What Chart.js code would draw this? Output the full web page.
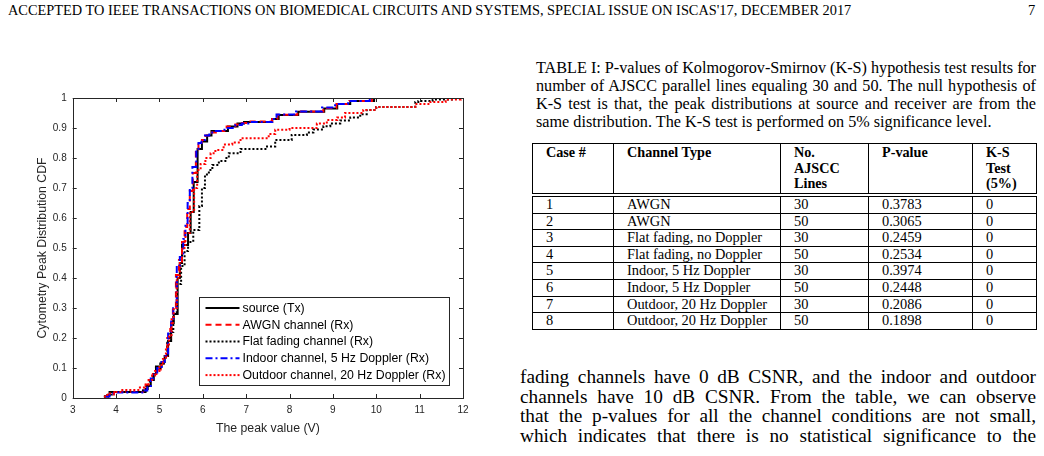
<!DOCTYPE html>
<html>
<head>
<meta charset="utf-8">
<script src="https://cdn.jsdelivr.net/npm/chart.js@4.4.0/dist/chart.umd.min.js"></script>
<style>
body{margin:0;width:1044px;height:456px;background:#fff;position:relative;overflow:hidden;font-family:"Liberation Serif","Times New Roman",serif;color:#000}
#head{position:absolute;left:8px;top:2px;font-size:14.5px;white-space:nowrap;transform-origin:0 0}
#pnum{position:absolute;left:1028px;top:2px;font-size:14.5px}
#graphe{position:absolute;left:0;top:60px;width:500px;height:390px}
#caption{position:absolute;left:536px;top:59px;width:500px;font-size:16.2px;line-height:18px}
#texte{position:absolute;left:520px;top:367px;width:516px;font-size:19.3px;line-height:19.7px}
.j{text-align:justify;text-align-last:justify}
#tab{position:absolute;left:532px;top:143px;border-collapse:collapse;font-size:14.4px;table-layout:fixed}
#tab td,#tab th{border:1px solid #000;padding:0 0 0 13px;text-align:left;vertical-align:top;line-height:15.5px;white-space:nowrap}
#tab th{font-size:14.2px;height:48px;padding-top:1px;border-bottom:4px double #000}
#tab td{height:15.6px}
</style>
</head>
<body>
<div id="head">ACCEPTED TO IEEE TRANSACTIONS ON BIOMEDICAL CIRCUITS AND SYSTEMS, SPECIAL ISSUE ON ISCAS'17, DECEMBER 2017</div>
<div id="pnum">7</div>

<div id="graphe"><canvas id="canv"></canvas></div>

<div id="caption">
<div class="j">TABLE I: P-values of Kolmogorov-Smirnov (K-S) hypothesis test results for</div>
<div class="j">number of AJSCC parallel lines equaling 30 and 50. The null hypothesis of</div>
<div class="j">K-S test is that, the peak distributions at source and receiver are from the</div>
<div>same distribution. The K-S test is performed on 5% significance level.</div>
</div>

<table id="tab">
<colgroup><col style="width:81px"><col style="width:167px"><col style="width:88px"><col style="width:104px"><col style="width:64px"></colgroup>
<thead><tr><th>Case #</th><th>Channel Type</th><th>No.<br>AJSCC<br>Lines</th><th>P-value</th><th>K-S<br>Test<br>(5%)</th></tr></thead>
<tbody id="corps"></tbody>
</table>

<div id="texte">
<div class="j">fading channels have 0 dB CSNR, and the indoor and outdoor</div>
<div class="j">channels have 10 dB CSNR. From the table, we can observe</div>
<div class="j">that the p-values for all the channel conditions are not small,</div>
<div class="j">which indicates that there is no statistical significance to the</div>
</div>

<script>
// valeurs (CDF en escalier)
var srcX = [3.72,3.8,3.85,4.68,4.73,4.8,4.87,4.92,5.05,5.12,5.2,5.27,5.33,5.42,5.47,5.52,5.66,5.72,5.79,5.88,5.98,6.1,6.2,6.58,6.8,6.95,7.6,7.75,8.2,8.8,9.1,9.4,9.95,10.05];
var srcY = [0.005,0.01,0.02,0.03,0.04,0.06,0.08,0.105,0.12,0.14,0.19,0.25,0.28,0.4,0.45,0.51,0.55,0.62,0.72,0.83,0.855,0.875,0.89,0.905,0.915,0.92,0.93,0.943,0.954,0.965,0.98,0.99,1,1];

var awgnX = [3.74,3.82,3.95,4.62,4.7,4.76,4.85,4.93,5.03,5.1,5.18,5.25,5.31,5.38,5.45,5.52,5.58,5.64,5.7,5.77,5.84,5.9,5.98,6.06,6.18,6.3,6.55,6.75,6.9,7.1,7.6,7.72,8.18,8.78,9.08,9.38,9.9,10.05];
var awgnY = [0.005,0.012,0.02,0.025,0.045,0.06,0.08,0.095,0.115,0.14,0.2,0.23,0.3,0.41,0.46,0.52,0.57,0.63,0.69,0.75,0.82,0.845,0.86,0.875,0.885,0.89,0.905,0.912,0.917,0.922,0.93,0.944,0.955,0.967,0.98,0.99,1,1];

var flatX = [3.72,3.82,3.9,4.62,4.7,4.78,4.85,4.92,5.02,5.1,5.18,5.25,5.32,5.4,5.5,5.58,5.66,5.78,5.92,5.98,6.05,6.14,6.22,6.37,6.52,6.6,6.87,7.48,7.67,8.05,8.4,8.55,8.78,8.94,9.17,9.4,9.63,9.78,10.0,10.9,10.97,11.3,11.8,12];
var flatY = [0.005,0.012,0.02,0.025,0.04,0.06,0.08,0.1,0.115,0.135,0.19,0.22,0.28,0.38,0.44,0.49,0.52,0.56,0.64,0.7,0.745,0.76,0.777,0.79,0.8,0.816,0.83,0.838,0.86,0.877,0.885,0.895,0.906,0.915,0.925,0.935,0.946,0.96,0.97,0.987,0.99,0.995,1,1];

var indoorX = [3.75,3.85,4.0,4.65,4.72,4.8,4.88,4.95,5.05,5.12,5.2,5.27,5.32,5.4,5.47,5.55,5.6,5.65,5.7,5.76,5.85,5.9,5.97,6.05,6.15,6.3,6.5,6.75,6.9,7.05,7.6,7.7,8.15,8.75,9.05,9.35,9.85,10.05];
var indoorY = [0.005,0.015,0.018,0.025,0.04,0.065,0.085,0.1,0.12,0.14,0.22,0.26,0.3,0.44,0.47,0.53,0.58,0.65,0.7,0.77,0.83,0.85,0.86,0.875,0.885,0.89,0.9,0.91,0.915,0.92,0.93,0.945,0.955,0.968,0.98,0.99,1,1];

var outdoorX = [3.72,3.8,3.95,4.1,4.55,4.68,4.75,4.83,4.9,5.0,5.08,5.15,5.22,5.28,5.33,5.4,5.47,5.52,5.6,5.7,5.8,5.87,5.95,6.06,6.18,6.29,6.48,6.68,6.87,7.52,7.67,8.0,8.63,8.86,9.1,9.28,9.7,10.0,10.9,11.25,11.6,11.95,12];
var outdoorY = [0.005,0.015,0.02,0.027,0.035,0.045,0.06,0.075,0.09,0.11,0.13,0.17,0.21,0.27,0.3,0.4,0.45,0.5,0.55,0.62,0.7,0.76,0.78,0.8,0.816,0.827,0.845,0.852,0.866,0.88,0.894,0.9,0.915,0.927,0.935,0.95,0.96,0.97,0.98,0.987,0.995,1,1];

var legendLabels = ['source (Tx)','AWGN channel (Rx)','Flat fading channel (Rx)','Indoor channel, 5 Hz Doppler (Rx)','Outdoor channel, 20 Hz Doppler (Rx)'];
var xTicks = [3,4,5,6,7,8,9,10,11,12];
var yTicks = [0,0.1,0.2,0.3,0.4,0.5,0.6,0.7,0.8,0.9,1];
var yTickLabels = ['0','0.1','0.2','0.3','0.4','0.5','0.6','0.7','0.8','0.9','1'];

// tableau K-S
var caseNum = ['1','2','3','4','5','6','7','8'];
var channelType = ['AWGN','AWGN','Flat fading, no Doppler','Flat fading, no Doppler','Indoor, 5 Hz Doppler','Indoor, 5 Hz Doppler','Outdoor, 20 Hz Doppler','Outdoor, 20 Hz Doppler'];
var nbLines = ['30','50','30','50','30','50','30','50'];
var pValue = ['0.3783','0.3065','0.2459','0.2534','0.3974','0.2448','0.2086','0.1898'];
var ksTest = ['0','0','0','0','0','0','0','0'];

function remplirTableau(){
  var corps = document.getElementById("corps");
  for (var i = 0; i < caseNum.length; i++){
    var tr = document.createElement("tr");
    [caseNum[i], channelType[i], nbLines[i], pValue[i], ksTest[i]].forEach(function(v){
      var td = document.createElement("td");
      td.textContent = v;
      tr.appendChild(td);
    });
    corps.appendChild(tr);
  }
}

function points(xs, ys){
  return xs.map(function(x, i){ return {x: x, y: ys[i]}; });
}

// cadre + ticks vers l'intérieur + légende dans le graphe
const cadre = {
  id: 'cadre',
  afterDatasetsDraw(chart){
    const ctx = chart.ctx, a = chart.chartArea, sx = chart.scales.x, sy = chart.scales.y;
    ctx.save();
    ctx.strokeStyle = '#262626';
    ctx.lineWidth = 1;
    ctx.setLineDash([]);
    ctx.beginPath();
    sx.ticks.forEach(function(t){
      var px = Math.round(sx.getPixelForValue(t.value)) + 0.5;
      ctx.moveTo(px, a.bottom); ctx.lineTo(px, a.bottom - 4);
      ctx.moveTo(px, a.top); ctx.lineTo(px, a.top + 4);
    });
    sy.ticks.forEach(function(t){
      var py = Math.round(sy.getPixelForValue(t.value)) + 0.5;
      ctx.moveTo(a.left, py); ctx.lineTo(a.left + 4, py);
      ctx.moveTo(a.right, py); ctx.lineTo(a.right - 4, py);
    });
    ctx.stroke();
    ctx.strokeRect(Math.round(a.left) + 0.5, Math.round(a.top) + 0.5, Math.round(a.right - a.left), Math.round(a.bottom - a.top));

    // légende
    ctx.font = '12.3px "Liberation Sans", Arial, sans-serif';
    var maxW = 0;
    legendLabels.forEach(function(l){ maxW = Math.max(maxW, ctx.measureText(l).width); });
    var rowH = 16.8;
    var w = 43 + maxW + 4, h = rowH * legendLabels.length + 4;
    var bx = Math.round(a.right - 14 - w) + 0.5, by = Math.round(a.bottom - 13 - h) + 0.5;
    ctx.fillStyle = '#fff';
    ctx.fillRect(bx, by, w, h);
    ctx.strokeStyle = '#262626';
    ctx.strokeRect(bx, by, w, h);
    chart.data.datasets.forEach(function(ds, i){
      var yy = by + 2 + rowH * (i + 0.5);
      ctx.strokeStyle = ds.borderColor;
      ctx.lineWidth = ds.borderWidth;
      ctx.setLineDash(ds.borderDash || []);
      ctx.beginPath();
      ctx.moveTo(bx + 6, yy); ctx.lineTo(bx + 40, yy);
      ctx.stroke();
      ctx.setLineDash([]);
      ctx.fillStyle = '#000';
      ctx.textBaseline = 'middle';
      ctx.fillText(legendLabels[i], bx + 43, yy + 0.5);
    });
    ctx.restore();
  }
};

function drawChart(){
  var data_chart = {
    datasets: [
      {label: legendLabels[0], data: points(srcX, srcY), borderColor: '#000000', borderWidth: 2, borderDash: [], order: 5},
      {label: legendLabels[1], data: points(awgnX, awgnY), borderColor: '#ff0000', borderWidth: 2, borderDash: [6, 4], order: 4},
      {label: legendLabels[2], data: points(flatX, flatY), borderColor: '#000000', borderWidth: 2, borderDash: [2, 2], order: 3},
      {label: legendLabels[3], data: points(indoorX, indoorY), borderColor: '#0000ff', borderWidth: 2, borderDash: [7, 3, 2, 3], order: 2},
      {label: legendLabels[4], data: points(outdoorX, outdoorY), borderColor: '#ff0000', borderWidth: 2, borderDash: [2, 2], order: 1}
    ]
  };
  var tickFont = {family: '"Liberation Sans", Arial, sans-serif', size: 10};
  var titleFont = {family: tickFont.family, size: 12.3};
  var config_chart = {
    type: 'line',
    data: data_chart,
    plugins: [cadre],
    options: {
      responsive: true,
      maintainAspectRatio: false,
      animation: false,
      layout: {padding: {top: 38, right: 37, left: 0, bottom: 0}},
      elements: {
        line: {stepped: true, fill: false, tension: 0},
        point: {radius: 0}
      },
      plugins: {legend: {display: false}, tooltip: {enabled: false}},
      scales: {
        x: {
          type: 'linear', min: 3, max: 12,
          afterBuildTicks: function(s){ s.ticks = xTicks.map(function(v){ return {value: v}; }); },
          afterFit: function(s){ s.height = 52; },
          grid: {display: false, drawTicks: false},
          border: {display: false},
          ticks: {color: '#262626', font: tickFont, padding: 6, maxRotation: 0},
          title: {display: true, text: 'The peak value (V)', color: '#262626', font: titleFont, padding: {top: 0, bottom: 14}}
        },
        y: {
          type: 'linear', min: 0, max: 1,
          afterBuildTicks: function(s){ s.ticks = yTicks.map(function(v){ return {value: v}; }); },
          afterFit: function(s){ s.width = 72.7; },
          grid: {display: false, drawTicks: false},
          border: {display: false},
          ticks: {color: '#262626', font: tickFont, padding: 6,
            callback: function(v, i){ return yTickLabels[i]; }},
          title: {display: true, text: 'Cytometry Peak Distribution CDF', color: '#262626', font: titleFont, padding: {top: 35, bottom: 0}}
        }
      }
    }
  };
  var myChart = new Chart(document.getElementById('canv'), config_chart);
}

remplirTableau();
var head = document.getElementById("head");
head.style.transform = "scaleX(" + (843 / head.offsetWidth) + ")";
drawChart();
</script>
</body>
</html>
